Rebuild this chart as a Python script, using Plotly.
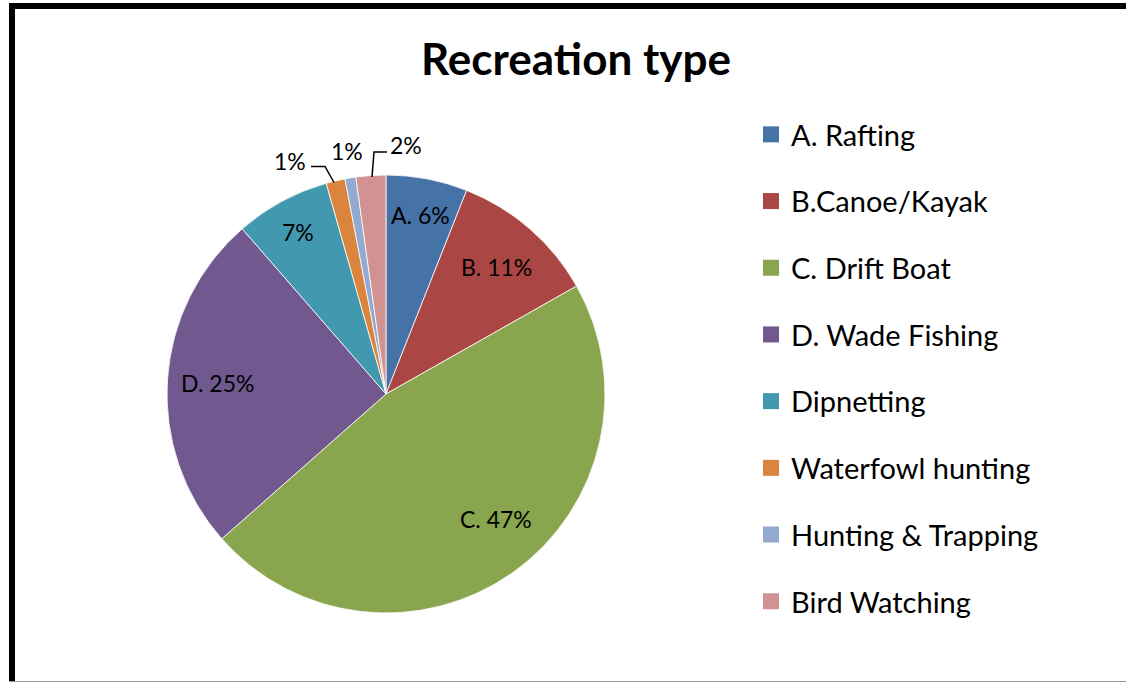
import math
import plotly.graph_objects as go

# Data
categories = ["A. Rafting", "B.Canoe/Kayak", "C. Drift Boat", "D. Wade Fishing",
              "Dipnetting", "Waterfowl hunting", "Hunting & Trapping", "Bird Watching"]
shares = [6.0, 10.8, 46.7, 25.1, 7.0, 1.4, 0.8, 2.2]
label_prefix = ["A. ", "B. ", "C. ", "D. ", "", "", "", ""]
colors = ["#4572A7", "#AA4643", "#89A54E", "#71588F",
          "#4198AF", "#DB843D", "#93A9CF", "#D19392"]
FONT = "Lato"

W, H = 1126, 683
cx, cy, R = 386, 394, 219

# radial position (fraction of radius) and angle nudge (deg) of the inside labels
label_radius = [0.83, 0.77, 0.76, 0.77, 0.84]
label_nudge = [0, 0, -6, 0, 0]

fig = go.Figure()

fig.add_trace(go.Pie(
    labels=categories,
    values=shares,
    textinfo="none",
    marker=dict(colors=colors, line=dict(color="white", width=0.8)),
    sort=False,
    direction="clockwise",
    rotation=0,
    showlegend=False,
    domain=dict(x=[(cx - R) / W, (cx + R) / W], y=[(H - cy - R) / H, (H - cy + R) / H]),
    hoverinfo="label+percent",
))

# legend entries (separate traces so spacing can match)
for i, (name, c) in enumerate(zip(categories, colors)):
    fig.add_trace(go.Scatter(
        x=[None], y=[None], mode="markers", name=name,
        marker=dict(symbol="square", size=16, color=c),
        legendgroup=f"g{i}", showlegend=True,
    ))

# inside labels, placed on each slice's middle angle
total = sum(shares)
cum = 0
for i, s in enumerate(shares):
    mid = (cum + s / 2) / total * 2 * math.pi
    cum += s
    if i >= len(label_radius):
        continue
    mid += math.radians(label_nudge[i])
    r = label_radius[i] * R
    px, py = cx + r * math.sin(mid), cy - r * math.cos(mid)
    fig.add_annotation(x=px / W, y=1 - py / H, xref="paper", yref="paper",
                       xanchor="center", yanchor="middle",
                       text=f"{label_prefix[i]}{round(s / total * 100)}%", showarrow=False,
                       font=dict(family=FONT, size=23, color="black"))

# outside labels for the thin slices, with leader lines
small_labels = [
    (5, 290, 161, [(311, 166.5), (325, 166.5), (334, 182.5)]),
    (6, 347, 151, None),
    (7, 406, 145, [(387, 152), (374, 152), (372, 177)]),
]
for idx, tx, ty, path in small_labels:
    fig.add_annotation(x=tx / W, y=1 - ty / H, xref="paper", yref="paper",
                       xanchor="center", yanchor="middle",
                       text=f"{round(shares[idx] / total * 100)}%", showarrow=False,
                       font=dict(family=FONT, size=23, color="black"))
    if path:
        d = "M " + " L ".join(f"{px / W},{1 - py / H}" for px, py in path)
        fig.add_shape(type="path", path=d, xref="paper", yref="paper",
                      line=dict(color="black", width=1.5))

# chart frame
fig.add_shape(type="line", xref="paper", yref="paper", x0=12 / W, x1=12 / W,
              y0=1 - 3 / H, y1=1 - 681 / H, line=dict(color="black", width=6))
fig.add_shape(type="line", xref="paper", yref="paper", x0=9 / W, x1=1,
              y0=1 - 6 / H, y1=1 - 6 / H, line=dict(color="black", width=6))
fig.add_shape(type="line", xref="paper", yref="paper", x0=9 / W, x1=1,
              y0=1 - 681.5 / H, y1=1 - 681.5 / H, line=dict(color="#999999", width=1))

fig.update_layout(
    width=W, height=H,
    margin=dict(l=0, r=0, t=0, b=0),
    paper_bgcolor="white",
    plot_bgcolor="white",
    title=dict(text="<b>Recreation type</b>", x=576 / W, xanchor="center",
               y=1 - 60 / H, yanchor="middle",
               font=dict(family=FONT, size=44, color="black")),
    xaxis=dict(visible=False),
    yaxis=dict(visible=False),
    legend=dict(x=751 / W, xanchor="left", y=1 - 109 / H, yanchor="top",
                font=dict(family=FONT, size=29, color="black"),
                tracegroupgap=26, itemsizing="trace",
                bgcolor="rgba(0,0,0,0)"),
)

fig.write_html("out.html", config={"displayModeBar": False},
               post_script="document.body.style.margin='0';")
